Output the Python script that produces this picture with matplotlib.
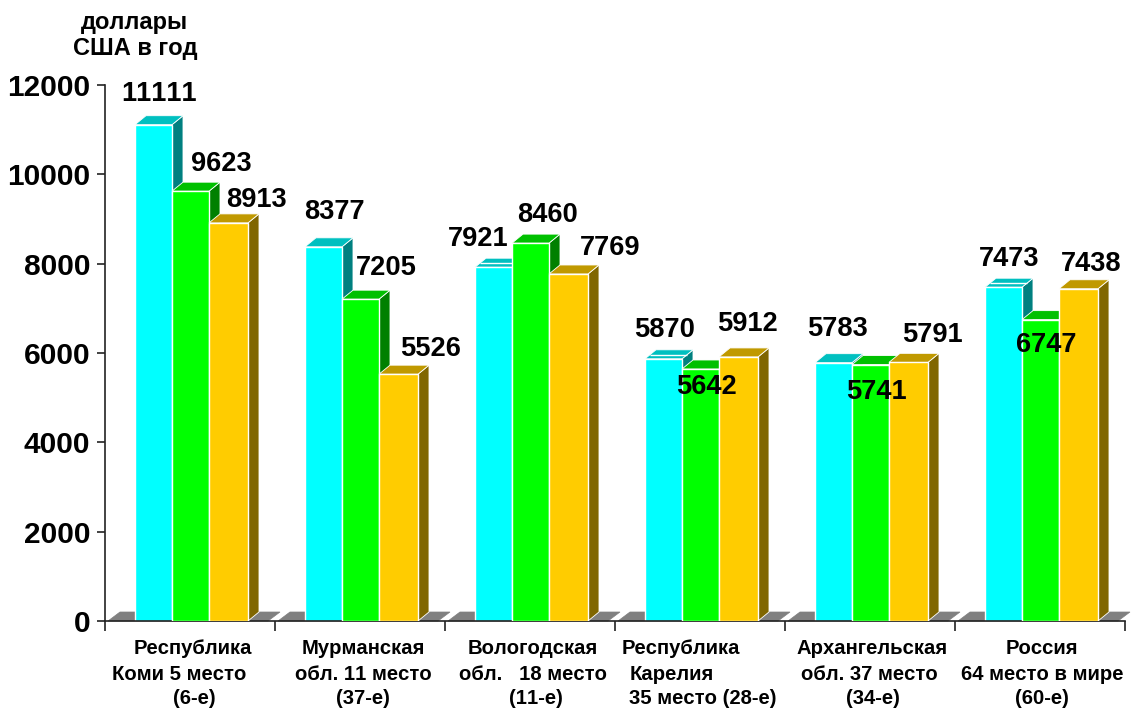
import matplotlib
matplotlib.use("Agg")
import matplotlib.pyplot as plt
from matplotlib.patches import Polygon

plt.rcParams['font.family'] = ['Liberation Sans', 'DejaVu Sans']
plt.rcParams['font.weight'] = 'bold'
plt.rcParams['text.kerning_factor'] = 6

W, H = 1134, 709
series_a = [11111, 8377, 7921, 5870, 5783, 7473]
series_b = [9623, 7205, 8460, 5642, 5741, 6747]
series_c = [8913, 5526, 7769, 5912, 5791, 7438]
y_ticks = [0, 2000, 4000, 6000, 8000, 10000, 12000]
cat_lines = [
    ["Республика", "Коми 5 место", "(6-е)"],
    ["Мурманская", "обл. 11 место", "(37-е)"],
    ["Вологодская", "обл.   18 место", "(11-е)"],
    ["Республика", "Карелия", "35 место (28-е)"],
    ["Архангельская", "обл. 37 место", "(34-е)"],
    ["Россия", "64 место в мире", "(60-е)"],
]
y_title = ["доллары", "США в год"]

# layout (pixels)
L, R, B, T = 105, 1125, 621, 85
fig = plt.figure(figsize=(W / 100, H / 100), dpi=100, facecolor='white')
ax = fig.add_axes([L / W, 1 - B / H, (R - L) / W, (B - T) / H])
ax.set_xlim(0, 6)
ax.set_ylim(0, 12000)
ax.patch.set_visible(False)
for s in ('top', 'right'):
    ax.spines[s].set_visible(False)
for s in ('left', 'bottom'):
    ax.spines[s].set_linewidth(1.2)
    ax.spines[s].set_color('#222222')

ux = 1 / 170  # one pixel in x data units
uy = 12000 / (B - T)  # one pixel in y data units
dx, dy = 11 * ux, 9 * uy

# floor
for i in range(6):
    x0, x1 = i + 3 * ux, i + 163 * ux
    ax.add_patch(Polygon([(x0, 0), (x0 + 12 * ux, 9 * uy), (x1 + 12 * ux, 9 * uy), (x1, 0)],
                         facecolor='#808080', edgecolor='#808080', lw=0.5, zorder=1, clip_on=False))

styles = [
    ('#00FFFF', '#00C0C0', '#008080', 30, 37),
    ('#00FF00', '#00C000', '#008000', 67, 37),
    ('#FFCC00', '#C09900', '#806600', 104, 39),
]
striped = {2, 3, 5}  # cyan tops that show a white band in the reference
z = 2
for n, (vals, (front, top, side, off, wid)) in enumerate(zip((series_a, series_b, series_c), styles)):
    for i, v in enumerate(vals):
        x0 = i + off * ux
        w = wid * ux
        ax.add_patch(Polygon([(x0 + w, 0), (x0 + w + dx, dy), (x0 + w + dx, v + dy), (x0 + w, v)],
                             facecolor=side, edgecolor='white', lw=0.6, zorder=z))
        ax.add_patch(Polygon([(x0, v), (x0 + dx, v + dy), (x0 + w + dx, v + dy), (x0 + w, v)],
                             facecolor=top, edgecolor='white', lw=0.6, zorder=z))
        if n == 0 and i in striped:
            f = 0.45
            ax.plot([x0 + f * dx, x0 + w + f * dx], [v + f * dy, v + f * dy],
                    color='white', lw=1.0, zorder=z + 0.2, solid_capstyle='butt')
        ax.bar(x0, v, width=w, align='edge', color=front, edgecolor='white', lw=1.0, zorder=z + 0.5)
    z += 1

# value labels: pixel offsets from the top centre of the bar
label_offsets = [
    [(6, 31), (31, 27), (28, 23)],
    [(11, 35), (26, 31), (32, 25)],
    [(-15, 28), (17, 28), (42, 26)],
    [(1, 29), (6, -18), (9, 33)],
    [(4, 34), (6, -27), (24, 27)],
    [(6, 28), (6, -25), (13, 25)],
]
for k, (vals, st) in enumerate(zip((series_a, series_b, series_c), styles)):
    for i, v in enumerate(vals):
        cx = i + (st[3] + st[4] / 2) * ux
        ox, oy = label_offsets[i][k]
        ax.annotate(str(v), (cx, v), xytext=(ox * 0.72, oy * 0.72), textcoords='offset points',
                    ha='center', va='center', fontsize=19.6, fontweight='bold', color='black', zorder=10)

# ticks
ax.set_yticks(y_ticks)
ax.set_xticks(range(7))
ax.set_xticklabels([])
ax.tick_params(axis='y', length=6, width=1.2, color='#222222', labelsize=21.5, pad=4.5)
ax.tick_params(axis='x', length=7.5, width=1.2, color='#222222')

# category labels, line by line
line_dx = [
    [23, 9, 24],
    [23, 23, 23],
    [23, 23, 26],
    [1, -8, 23],
    [22, 19, 23],
    [22, 22, 22],
]
line_y = [648, 674, 699]
for i, lines in enumerate(cat_lines):
    for j, t in enumerate(lines):
        ax.text(i * 170 * ux + (65 + line_dx[i][j]) * ux, (B - line_y[j]) * uy, t, ha='center', va='center',
                fontsize=14.6, fontweight='bold', color='black', clip_on=False)

fig.text(134 / W, 1 - 22 / H, y_title[0], ha='center', va='center', fontsize=17, fontweight='bold')
fig.text(135 / W, 1 - 48 / H, y_title[1], ha='center', va='center', fontsize=17, fontweight='bold')

fig.savefig('out.png', dpi=100, facecolor='white')
